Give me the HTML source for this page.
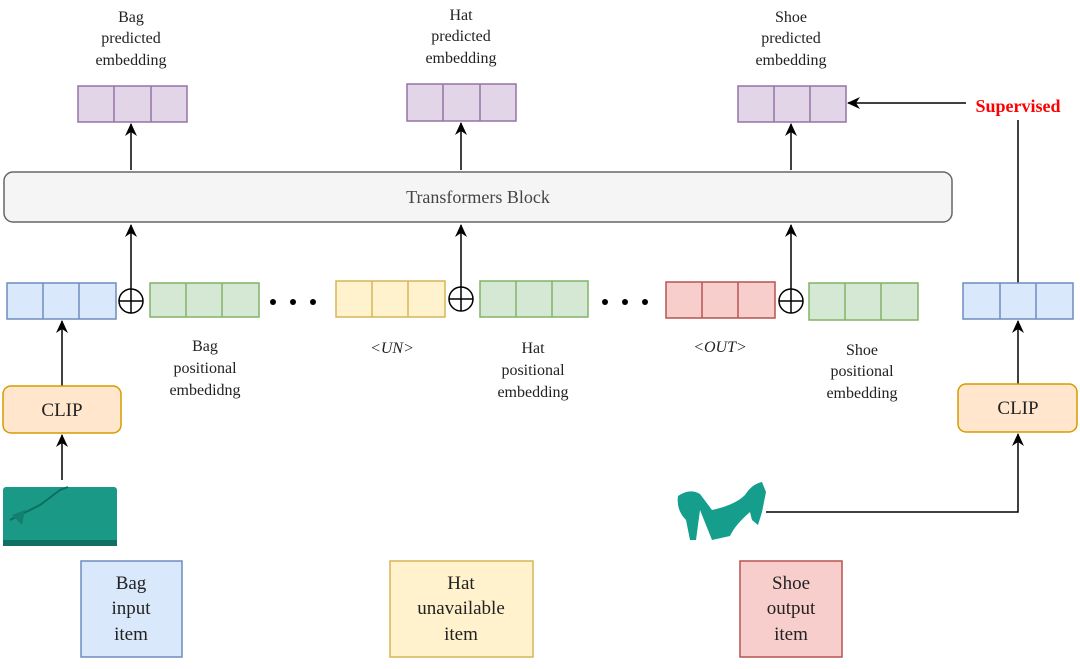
<!DOCTYPE html>
<html><head><meta charset="utf-8"><style>
html,body{margin:0;padding:0;background:#fff;}
svg{display:block;}
text{font-family:"Liberation Serif",serif;fill:#222;}
</style></head><body>
<svg width="1080" height="669" viewBox="0 0 1080 669" xmlns="http://www.w3.org/2000/svg">
<defs>
<marker id="a" markerWidth="14" markerHeight="12" refX="12" refY="6" orient="auto" markerUnits="userSpaceOnUse">
<path d="M0,0 L13,6 L0,12 L4,6 Z" fill="#000"/></marker>
</defs>
<g font-size="16" text-anchor="middle">
<text x="131" y="22">Bag</text><text x="131" y="43">predicted</text><text x="131" y="65">embedding</text>
<text x="461" y="20">Hat</text><text x="461" y="41">predicted</text><text x="461" y="63">embedding</text>
<text x="791" y="22">Shoe</text><text x="791" y="43">predicted</text><text x="791" y="65">embedding</text>
</g>
<g stroke="#9673a6" stroke-width="1.5" fill="#e1d5e7">
<rect x="78" y="86" width="109" height="36"/><line x1="114" y1="86" x2="114" y2="122"/><line x1="151" y1="86" x2="151" y2="122"/>
<rect x="407" y="84" width="109" height="37"/><line x1="443" y1="84" x2="443" y2="121"/><line x1="480" y1="84" x2="480" y2="121"/>
<rect x="738" y="86" width="108" height="36"/><line x1="774" y1="86" x2="774" y2="122"/><line x1="810" y1="86" x2="810" y2="122"/>
</g>
<g stroke="#000" stroke-width="1.5" fill="none" marker-end="url(#a)">
<line x1="131" y1="170" x2="131" y2="124"/>
<line x1="461" y1="170" x2="461" y2="123"/>
<line x1="791" y1="170" x2="791" y2="124"/>
<line x1="131" y1="289" x2="131" y2="225"/>
<line x1="461" y1="287" x2="461" y2="225"/>
<line x1="791" y1="289" x2="791" y2="225"/>
<line x1="62" y1="386" x2="62" y2="321"/>
<line x1="62" y1="480" x2="62" y2="435"/>
<line x1="1018" y1="384" x2="1018" y2="321"/>
<polyline points="766,512 1018,512 1018,434"/>
<line x1="966" y1="103" x2="848" y2="103"/>
</g>
<line x1="1018" y1="120" x2="1018" y2="283" stroke="#000" stroke-width="1.5"/>
<text x="1018" y="112" font-size="18" font-weight="bold" text-anchor="middle" style="fill:#ff0000">Supervised</text>
<rect x="4" y="172" width="948" height="50" rx="9" fill="#f5f5f5" stroke="#666" stroke-width="1.5"/>
<text x="478" y="203" font-size="18" text-anchor="middle" style="fill:#444">Transformers Block</text>
<g stroke-width="1.5">
<g stroke="#6c8ebf" fill="#dae8fc">
<rect x="7" y="283" width="109" height="36"/><line x1="43" y1="283" x2="43" y2="319"/><line x1="79" y1="283" x2="79" y2="319"/>
<rect x="963" y="283" width="110" height="36"/><line x1="1000" y1="283" x2="1000" y2="319"/><line x1="1036" y1="283" x2="1036" y2="319"/>
</g>
<g stroke="#82b366" fill="#d5e8d4">
<rect x="150" y="283" width="109" height="34"/><line x1="186" y1="283" x2="186" y2="317"/><line x1="222" y1="283" x2="222" y2="317"/>
<rect x="480" y="281" width="108" height="36"/><line x1="516" y1="281" x2="516" y2="317"/><line x1="552" y1="281" x2="552" y2="317"/>
<rect x="809" y="283" width="109" height="37"/><line x1="845" y1="283" x2="845" y2="320"/><line x1="881" y1="283" x2="881" y2="320"/>
</g>
<g stroke="#d6b656" fill="#fff2cc">
<rect x="336" y="281" width="109" height="36"/><line x1="372" y1="281" x2="372" y2="317"/><line x1="408" y1="281" x2="408" y2="317"/>
</g>
<g stroke="#b85450" fill="#f8cecc">
<rect x="666" y="282" width="109" height="36"/><line x1="702" y1="282" x2="702" y2="318"/><line x1="738" y1="282" x2="738" y2="318"/>
</g>
</g>
<g stroke="#000" stroke-width="1.5" fill="#fff">
<circle cx="131" cy="301" r="12"/><line x1="119" y1="301" x2="143" y2="301"/><line x1="131" y1="289" x2="131" y2="313"/>
<circle cx="461" cy="299" r="12"/><line x1="449" y1="299" x2="473" y2="299"/><line x1="461" y1="287" x2="461" y2="311"/>
<circle cx="791" cy="301" r="12"/><line x1="779" y1="301" x2="803" y2="301"/><line x1="791" y1="289" x2="791" y2="313"/>
</g>
<g fill="#000">
<circle cx="273" cy="302" r="3"/><circle cx="293" cy="302" r="3"/><circle cx="313" cy="302" r="3"/>
<circle cx="605" cy="302" r="3"/><circle cx="625" cy="302" r="3"/><circle cx="645" cy="302" r="3"/>
</g>
<g font-size="16" text-anchor="middle">
<text x="205" y="351">Bag</text><text x="205" y="373">positional</text><text x="205" y="395">embedidng</text>
<text x="392" y="353" font-style="italic">&lt;UN&gt;</text>
<text x="533" y="353">Hat</text><text x="533" y="375">positional</text><text x="533" y="397">embedding</text>
<text x="720" y="352" font-style="italic">&lt;OUT&gt;</text>
<text x="862" y="355">Shoe</text><text x="862" y="376">positional</text><text x="862" y="398">embedding</text>
</g>
<rect x="3" y="386" width="118" height="47" rx="8" fill="#ffe6cc" stroke="#d79b00" stroke-width="1.5"/>
<text x="62" y="416" font-size="19" text-anchor="middle">CLIP</text>
<rect x="958" y="384" width="119" height="48" rx="8" fill="#ffe6cc" stroke="#d79b00" stroke-width="1.5"/>
<text x="1018" y="414" font-size="19" text-anchor="middle">CLIP</text>
<rect x="3" y="487" width="114" height="57" rx="3" fill="#1a9987"/>
<rect x="3" y="540" width="114" height="6" fill="#0f6f62"/>
<path d="M10,520 L40,505 L60,490 L68,487" stroke="#0d6f62" stroke-width="2" fill="none"/>
<path d="M12,515 L25,510 L22,525 Z" fill="#137f70"/>
<path d="M678,496 Q690,488 700,494 L712,510 Q735,505 745,495 Q752,484 762,482 L766,492 L762,512 L758,525 L752,520 L750,512 Q735,525 730,536 L712,540 L708,530 L700,510 L696,540 L690,540 L686,520 Q676,510 678,496 Z" fill="#159e8c"/>
<g stroke-width="1.5">
<rect x="81" y="561" width="101" height="96" fill="#dae8fc" stroke="#6c8ebf"/>
<rect x="390" y="561" width="143" height="96" fill="#fff2cc" stroke="#d6b656"/>
<rect x="740" y="561" width="102" height="96" fill="#f8cecc" stroke="#b85450"/>
</g>
<g font-size="19" text-anchor="middle">
<text x="131" y="589">Bag</text><text x="131" y="614">input</text><text x="131" y="640">item</text>
<text x="461" y="589">Hat</text><text x="461" y="614">unavailable</text><text x="461" y="640">item</text>
<text x="791" y="589">Shoe</text><text x="791" y="614">output</text><text x="791" y="640">item</text>
</g>
</svg>
</body></html>
